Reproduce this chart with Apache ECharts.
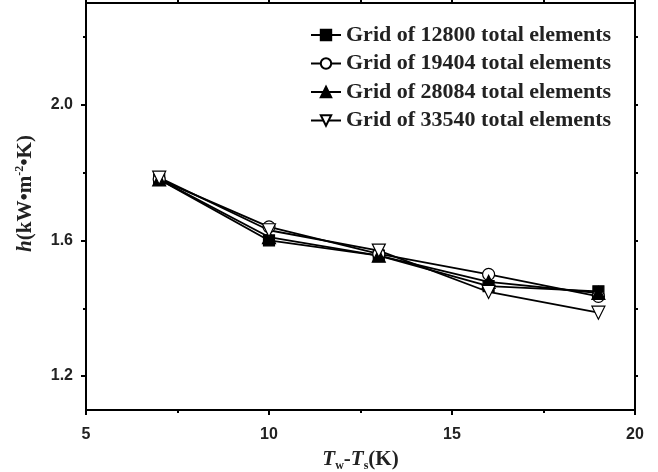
<!DOCTYPE html>
<html>
<head>
<meta charset="utf-8">
<script src="https://cdn.jsdelivr.net/npm/echarts@6/dist/echarts.min.js"></script>
<style>html,body{margin:0;padding:0;background:#fff;}#c{width:658px;height:472px;}</style>
</head>
<body>
<div id="c"></div>
<script>
const xValues = [7, 10, 13, 16, 19];
const grid12800 = [1.78, 1.60, 1.555, 1.465, 1.45];
const grid19404 = [1.78, 1.64, 1.56, 1.50, 1.435];
const grid28084 = [1.78, 1.61, 1.555, 1.478, 1.445];
const grid33540 = [1.785, 1.63, 1.57, 1.448, 1.387];
const seriesNames = ['Grid of 12800 total elements', 'Grid of 19404 total elements', 'Grid of 28084 total elements', 'Grid of 33540 total elements'];
const yLabelValues = [1.2, 1.6, 2.0];
const yMinorValues = [1.4, 1.8, 2.2];

const chart = echarts.init(document.getElementById('c'), null, {renderer: 'canvas'});
const pair = arr => xValues.map((x, i) => [x, arr[i]]);
const serif = 'Liberation Serif';
const sans = 'Liberation Sans';
const lineW = 1.8;

function mk(name, data, symbol, filled, rotate, size) {
  return {
    name: name, type: 'line', data: pair(data), symbol: symbol, symbolSize: size,
    symbolRotate: rotate || 0,
    lineStyle: {color: '#000', width: lineW},
    itemStyle: {color: filled ? '#000' : '#fff', borderColor: '#000', borderWidth: 1.2},
    emphasis: {disabled: true}, animation: false
  };
}

const axisLine = {show: true, lineStyle: {color: '#000', width: 2}};
chart.setOption({
  animation: false,
  grid: {left: 86, right: 23, top: 3, bottom: 62, containLabel: false, outerBoundsMode: 'none'},
  legend: {
    orient: 'vertical', left: 305, top: 19, itemGap: 6.5, itemWidth: 30, itemHeight: 13,
    data: seriesNames,
    textStyle: {fontFamily: serif, fontWeight: 'bold', fontSize: 22, color: '#222'}
  },
  xAxis: [{
    type: 'value', min: 5, max: 20, interval: 5, position: 'bottom',
    axisLine: axisLine,
    axisTick: {show: true, inside: false, length: 5, lineStyle: {color: '#000', width: 2}},
    minorTick: {show: true, splitNumber: 2, length: 3, lineStyle: {color: '#000', width: 2}},
    splitLine: {show: false},
    axisLabel: {margin: 17, fontFamily: sans, fontWeight: 'bold', fontSize: 16, color: '#222'},
    name: '{i|T}{sub|w}{n|-}{i|T}{sub|s}{n|(K)}', nameLocation: 'middle', nameGap: 37,
    nameTextStyle: {
      rich: {
        i: {fontFamily: serif, fontStyle: 'italic', fontWeight: 'bold', fontSize: 21, color: '#222'},
        n: {fontFamily: serif, fontWeight: 'bold', fontSize: 21, color: '#222'},
        sub: {fontFamily: serif, fontWeight: 'bold', fontSize: 12, color: '#222', padding: [13, 0, 0, 0]}
      }
    }
  }, {
    type: 'value', min: 5, max: 20, interval: 5, position: 'top',
    axisLine: axisLine,
    axisTick: {show: true, inside: false, length: 3, lineStyle: {color: '#000', width: 2}},
    minorTick: {show: true, splitNumber: 2, length: 3, lineStyle: {color: '#000', width: 2}},
    splitLine: {show: false}, axisLabel: {show: false}
  }],
  yAxis: [{
    type: 'value', min: 1.1, max: 2.3, position: 'left',
    axisLine: axisLine,
    axisTick: {show: true, inside: false, length: 5, customValues: yLabelValues, lineStyle: {color: '#000', width: 2}},
    splitLine: {show: false},
    axisLabel: {margin: 13, customValues: yLabelValues, formatter: v => v.toFixed(1), fontFamily: sans, fontWeight: 'bold', fontSize: 16, color: '#222'},
    name: '{i|h}{n|(kW•m}{sup|-2}{n|•K)}', nameLocation: 'middle', nameGap: 49, nameRotate: 90,
    nameTextStyle: {
      padding: [0, 0, 0, 26],
      rich: {
        i: {fontFamily: serif, fontStyle: 'italic', fontWeight: 'bold', fontSize: 21, color: '#222'},
        n: {fontFamily: serif, fontWeight: 'bold', fontSize: 21, color: '#222'},
        sup: {fontFamily: serif, fontWeight: 'bold', fontSize: 12, color: '#222', padding: [0, 0, 11, 0]}
      }
    }
  }, {
    type: 'value', min: 1.1, max: 2.3, position: 'left',
    axisLine: {show: false},
    axisTick: {show: true, inside: false, length: 3, customValues: yMinorValues, lineStyle: {color: '#000', width: 2}},
    splitLine: {show: false}, axisLabel: {show: false}
  }, {
    type: 'value', min: 1.1, max: 2.3, position: 'right',
    axisLine: axisLine,
    axisTick: {show: true, inside: false, length: 3, customValues: yLabelValues.concat(yMinorValues), lineStyle: {color: '#000', width: 2}},
    splitLine: {show: false}, axisLabel: {show: false}
  }],
  series: [
    mk(seriesNames[0], grid12800, 'rect', true, 0, 11),
    mk(seriesNames[1], grid19404, 'circle', false, 0, 12),
    mk(seriesNames[2], grid28084, 'triangle', true, 0, 13),
    mk(seriesNames[3], grid33540, 'triangle', false, 180, 13)
  ]
});
</script>
</body>
</html>
